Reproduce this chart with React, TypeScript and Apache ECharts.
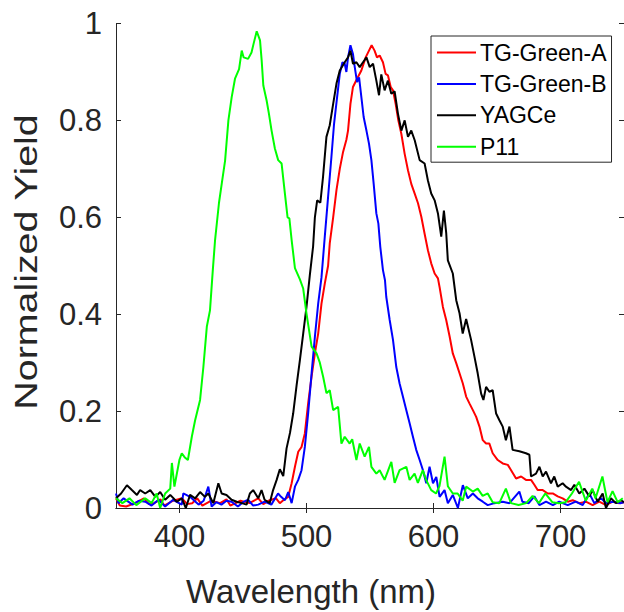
import React, { useEffect, useRef } from "react";
import * as echarts from "echarts";

const xTicks = [400, 500, 600, 700];
const yTicks = [0, 0.2, 0.4, 0.6, 0.8, 1];
const seriesNames = ["TG-Green-A", "TG-Green-B", "YAGCe", "P11"];
const seriesColors = ["#ff0000", "#0000ff", "#000000", "#00ff00"];

const tgGreenA: number[][] = [
  [350, 0.02], [353, 0.005], [358, 0.003], [365, 0.01], [372, 0.02], [376, 0.008], [380, 0.01], [385, 0.018],
  [388, 0.005], [395, 0.015], [402, 0.02], [406, 0.008], [410, 0.01], [414, 0.02], [418, 0.005], [425, 0.015],
  [432, 0.01], [437, 0.018], [440, 0.005], [448, 0.015], [455, 0.01], [462, 0.02], [466, 0.008], [470, 0.015],
  [476, 0.02], [479, 0.01], [481.7, 0.016], [485.6, 0.023], [488.3, 0.051], [490.9, 0.085], [493.5, 0.116],
  [496.1, 0.126], [498.7, 0.154], [501.3, 0.216], [504, 0.271], [506.6, 0.319], [509.2, 0.36], [511.8, 0.422],
  [514.4, 0.463], [517, 0.5], [518.3, 0.546], [521, 0.6], [523.6, 0.656], [526.2, 0.7], [528.8, 0.735],
  [531.4, 0.76], [532.7, 0.779], [534.6, 0.834], [536.6, 0.869], [539.8, 0.886], [543.2, 0.903], [546.6, 0.93],
  [549.2, 0.944], [551.3, 0.955], [553.6, 0.944], [555.5, 0.93], [557.6, 0.934], [560.2, 0.92], [562.3, 0.896],
  [564.1, 0.893], [566.3, 0.869], [568.1, 0.862], [570.2, 0.834], [572.3, 0.8], [574.7, 0.772], [577.3, 0.731],
  [579.9, 0.697], [582.5, 0.669], [585.2, 0.649], [587.8, 0.629], [590.4, 0.601], [593, 0.566], [595.6, 0.532],
  [598.2, 0.505], [600.9, 0.484], [603.5, 0.474], [604.8, 0.456], [607.4, 0.415], [610, 0.388], [612.7, 0.354],
  [615.2, 0.319], [617.9, 0.299], [620.5, 0.278], [623.1, 0.257], [625.7, 0.23], [628.3, 0.216], [631, 0.202],
  [633.6, 0.188], [636.2, 0.168], [638.8, 0.14], [641.4, 0.133], [644, 0.133], [646.6, 0.113], [650.6, 0.099],
  [654.5, 0.092], [658.5, 0.089], [661.1, 0.078], [665, 0.061], [669, 0.065], [672.8, 0.058], [676.8, 0.058],
  [679.4, 0.048], [682, 0.037], [686, 0.037], [690, 0.03], [693.9, 0.03], [697.8, 0.024], [701.7, 0.02],
  [705.7, 0.013], [709.6, 0.016], [714.8, 0.01], [720, 0.013], [725.3, 0.006], [730.5, 0.013], [735.8, 0.006],
  [741, 0.013], [746.3, 0.01], [750, 0.012],
];

const tgGreenB: number[][] = [
  [350, 0.03], [352, 0.01], [356, 0.02], [363, 0.007], [368, 0.015], [373, 0.013], [378, 0.005], [383.5, 0.017],
  [388.7, 0.003], [395, 0.017], [401.8, 0.007], [403, 0.03], [408.3, 0.023], [415, 0.007], [419, 0.015],
  [422.7, 0.044], [425.3, 0.003], [429, 0.012], [433, 0.007], [437, 0.015], [441, 0.013], [446, 0.003],
  [450, 0.012], [454, 0.017], [458, 0.005], [462, 0.007], [467, 0.013], [472.3, 0.007], [477.6, 0.03],
  [480, 0.023], [483, 0.016], [485.6, 0.033], [488.3, 0.01], [490.9, 0.044], [493.5, 0.058], [496.1, 0.078],
  [498.7, 0.126], [501.3, 0.195], [504, 0.278], [506.6, 0.353], [509.2, 0.422], [511.8, 0.476], [514.4, 0.56],
  [517, 0.642], [519.6, 0.724], [521.7, 0.793], [524.1, 0.848], [526.2, 0.896], [528.3, 0.92], [530.1, 0.917],
  [531.4, 0.9], [532.7, 0.93], [534.6, 0.955], [536.6, 0.937], [538, 0.91], [539.8, 0.879], [541.4, 0.889],
  [543.2, 0.848], [545, 0.807], [547.2, 0.779], [549.2, 0.752], [551.1, 0.718], [552.9, 0.669], [555, 0.608],
  [556.6, 0.587], [558.1, 0.539], [560.2, 0.491], [561.8, 0.47], [562.8, 0.436], [565.5, 0.388], [568.1, 0.347],
  [570.7, 0.291], [573.3, 0.257], [575.9, 0.23], [578.6, 0.202], [581.2, 0.175], [583.8, 0.147], [586.4, 0.12],
  [589.1, 0.099], [591.7, 0.078], [594.3, 0.051], [596.9, 0.085], [599.6, 0.051], [602.2, 0.064], [604.8, 0.023],
  [608.7, 0.037], [611.3, 0.01], [615.2, 0.027], [619.2, 0.0], [623.1, 0.047], [627, 0.02], [631, 0.03],
  [634.8, 0.02], [638.8, 0.013], [642.7, 0.006], [648, 0.01], [654.5, 0.013], [659.8, 0.01], [667.6, 0.034],
  [670, 0.013], [675, 0.01], [679.4, 0.024], [683.4, 0.006], [688.6, 0.013], [694, 0.006], [699, 0.013],
  [705.7, 0.006], [712, 0.013], [717.5, 0.006], [722.7, 0.03], [726.6, 0.01], [731.9, 0.02], [736, 0.01],
  [741, 0.013], [747.6, 0.01], [750, 0.012],
];

const yagce: number[][] = [
  [350, 0.02], [354, 0.03], [358.6, 0.047], [362.5, 0.037], [366.5, 0.027], [369, 0.037], [373, 0.03],
  [377, 0.037], [381, 0.023], [384.8, 0.033], [388.7, 0.017], [392.7, 0.027], [397.9, 0.013], [401.8, 0.02],
  [405, 0.0], [408.3, 0.027], [412.3, 0.02], [416.2, 0.033], [420, 0.023], [422.7, 0.03], [426.6, 0.01],
  [430.6, 0.051], [433.2, 0.03], [437, 0.027], [441, 0.017], [445, 0.013], [449, 0.01], [452.8, 0.007],
  [455.4, 0.03], [458, 0.037], [462, 0.02], [464.6, 0.037], [467, 0.017], [471, 0.01], [473.7, 0.037],
  [476.5, 0.058], [479, 0.08], [481.7, 0.066], [484.3, 0.123], [487, 0.155], [489.5, 0.195], [492.2, 0.253],
  [494.8, 0.305], [497.4, 0.36], [500, 0.415], [502.6, 0.48], [505.2, 0.54], [506.6, 0.6], [508.4, 0.635],
  [510.9, 0.63], [513, 0.683], [515.7, 0.766], [518.3, 0.79], [521, 0.834], [523.6, 0.876], [526.2, 0.903],
  [530.1, 0.92], [532.7, 0.93], [534.6, 0.944], [536.6, 0.917], [539.3, 0.92], [541.9, 0.91], [544.5, 0.92],
  [547.2, 0.93], [549.8, 0.91], [552.4, 0.917], [555, 0.882], [557.1, 0.852], [558.9, 0.895], [561.5, 0.862],
  [564.1, 0.882], [566.8, 0.855], [569.4, 0.86], [572, 0.814], [574.7, 0.779], [577.3, 0.8], [579.9, 0.766],
  [582.5, 0.779], [585.2, 0.759], [589.1, 0.718], [593, 0.711], [595.6, 0.676], [598.2, 0.649], [600.9, 0.635],
  [603.5, 0.608], [606.1, 0.56], [608.2, 0.614], [610, 0.568], [611.3, 0.511], [615.2, 0.484], [617.9, 0.429],
  [620.5, 0.402], [623, 0.36], [625.7, 0.39], [629.6, 0.347], [632.2, 0.313], [634.8, 0.278], [637.5, 0.236],
  [639.3, 0.223], [641.4, 0.25], [644, 0.24], [646.6, 0.243], [649.3, 0.195], [651.9, 0.181], [654.5, 0.168],
  [657, 0.14], [659.8, 0.168], [662.3, 0.12], [667.6, 0.117], [672.8, 0.113], [675.5, 0.11], [676.8, 0.065],
  [680.7, 0.071], [683.4, 0.085], [686, 0.065], [688.6, 0.075], [692.5, 0.051], [695.1, 0.065], [697.8, 0.044],
  [701.7, 0.051], [704.3, 0.044], [708.3, 0.037], [710.9, 0.048], [714.8, 0.03], [718.8, 0.04], [722.7, 0.024],
  [725.3, 0.037], [729.2, 0.013], [733.2, 0.03], [735.8, 0.0], [739.7, 0.02], [743.6, 0.01], [747.6, 0.016],
  [750, 0.012],
];

const p11: number[][] = [
  [350, 0.02], [355, 0.01], [360.6, 0.02], [366, 0.006], [373, 0.02], [378, 0.01], [382, 0.03], [384.8, 0.0],
  [388.7, 0.03], [392.7, 0.04], [394, 0.093], [396, 0.044], [400, 0.1], [401.8, 0.113], [404, 0.105],
  [406.6, 0.099], [409.7, 0.147], [412.3, 0.181], [416.2, 0.223], [418.8, 0.291], [421.5, 0.374], [424, 0.408],
  [426.2, 0.49], [428, 0.553], [431.1, 0.63], [433.3, 0.67], [435.9, 0.717], [438.5, 0.8], [441.1, 0.848],
  [443.7, 0.886], [446.9, 0.906], [449, 0.944], [450.5, 0.93], [454, 0.927], [456.7, 0.94], [458.5, 0.96],
  [460.8, 0.984], [463.4, 0.965], [464.7, 0.924], [466, 0.872], [468.6, 0.841], [470.4, 0.814], [472.5, 0.779],
  [475.1, 0.742], [477.7, 0.718], [480.4, 0.711], [483, 0.649], [485.1, 0.6], [486.5, 0.598], [488.3, 0.553],
  [490.9, 0.495], [494.8, 0.472], [497.4, 0.453], [500, 0.401], [504, 0.333], [507.9, 0.319], [510.5, 0.3],
  [513.1, 0.271], [515.7, 0.237], [518.3, 0.243], [521, 0.202], [524.9, 0.209], [527.5, 0.133], [530.1, 0.147],
  [534, 0.133], [536, 0.142], [539.3, 0.099], [541.9, 0.133], [545.8, 0.106], [549.2, 0.126], [551.1, 0.085],
  [555, 0.071], [557.6, 0.078], [561.5, 0.058], [566.8, 0.095], [569.4, 0.052], [573.3, 0.078], [578.6, 0.085],
  [581.2, 0.058], [585.1, 0.071], [587.7, 0.052], [591.6, 0.078], [594.2, 0.058], [598.2, 0.037], [602, 0.03],
  [604.7, 0.045], [608.7, 0.106], [611.3, 0.045], [615.2, 0.03], [619, 0.03], [623, 0.015], [625.7, 0.044],
  [631, 0.034], [634.8, 0.04], [638.7, 0.025], [642.7, 0.03], [646.6, 0.012], [651.8, 0.01], [657, 0.04],
  [661, 0.01], [667, 0.006], [673, 0.01], [678, 0.025], [683, 0.01], [688, 0.03], [693.5, 0.012], [698.7, 0.01],
  [704, 0.012], [709, 0.03], [714.6, 0.054], [719.9, 0.015], [725, 0.04], [727.6, 0.02], [733, 0.065],
  [737, 0.012], [741, 0.035], [745, 0.012], [749, 0.02],
];

const seriesData = [tgGreenA, tgGreenB, yagce, p11];

const FONT = '"Liberation Sans", Arial, sans-serif';
const AXIS_COLOR = "#262626";

export default function App() {
  const ref = useRef<HTMLDivElement>(null);

  useEffect(() => {
    if (!ref.current) return;
    const chart = echarts.init(ref.current, undefined, { renderer: "svg" });

    const axisLine = { show: true, lineStyle: { color: AXIS_COLOR, width: 1 } };

    chart.setOption({
      animation: false,
      backgroundColor: "#ffffff",
      grid: { left: 116, top: 23.5, right: -1, bottom: 104, containLabel: false },
      xAxis: [
        {
          type: "value",
          position: "bottom",
          min: 350,
          max: 750,
          axisLine,
          axisTick: { show: true, inside: true, length: 5, customValues: xTicks, lineStyle: { color: AXIS_COLOR } },
          axisLabel: { show: true, customValues: xTicks, fontSize: 31, fontFamily: FONT, color: AXIS_COLOR, margin: 13 },
          splitLine: { show: false },
        },
        {
          type: "value",
          position: "top",
          min: 350,
          max: 750,
          axisLine,
          axisTick: { show: true, inside: true, length: 5, customValues: xTicks, lineStyle: { color: AXIS_COLOR } },
          axisLabel: { show: false },
          splitLine: { show: false },
        },
      ],
      yAxis: [
        {
          type: "value",
          position: "left",
          min: yTicks[0],
          max: yTicks[yTicks.length - 1],
          interval: 0.2,
          axisLine,
          axisTick: { show: true, inside: true, length: 5, lineStyle: { color: AXIS_COLOR } },
          axisLabel: { show: true, fontSize: 31, fontFamily: FONT, color: AXIS_COLOR, margin: 14, padding: [5, 0, 0, 0] },
          splitLine: { show: false },
        },
        {
          type: "value",
          position: "right",
          min: yTicks[0],
          max: yTicks[yTicks.length - 1],
          interval: 0.2,
          axisLine,
          axisTick: { show: true, inside: true, length: 5, lineStyle: { color: AXIS_COLOR } },
          axisLabel: { show: false },
          splitLine: { show: false },
        },
      ],
      legend: {
        orient: "vertical",
        left: 431,
        top: 36,
        padding: [5, 5, 4, 6],
        itemGap: 8.4,
        itemWidth: 39,
        itemHeight: 2,
        icon: "rect",
        backgroundColor: "#ffffff",
        borderColor: AXIS_COLOR,
        borderWidth: 1,
        borderRadius: 0,
        data: seriesNames,
        textStyle: { fontSize: 23, lineHeight: 23, fontFamily: FONT, color: "#000000", padding: [0, 0, 0, -1] },
      },
      series: seriesNames.map((name, i) => ({
        name,
        type: "line",
        xAxisIndex: 0,
        yAxisIndex: 0,
        data: seriesData[i],
        symbol: "none",
        showSymbol: false,
        color: seriesColors[i],
        itemStyle: { color: seriesColors[i] },
        lineStyle: { color: seriesColors[i], width: 2 },
        emphasis: { disabled: true },
      })),
      graphic: [
        {
          type: "text",
          x: 311,
          y: 591,
          style: {
            text: "Wavelength (nm)",
            fontSize: 33,
            fontFamily: FONT,
            fill: AXIS_COLOR,
            align: "center",
            verticalAlign: "middle",
            textAlign: "center",
            textVerticalAlign: "middle",
          },
        },
        {
          type: "text",
          x: 27,
          y: 262,
          rotation: Math.PI / 2,
          scaleX: 1.27,
          style: {
            text: "Normalized Yield",
            fontSize: 31,
            fontFamily: FONT,
            fill: AXIS_COLOR,
            align: "center",
            verticalAlign: "middle",
            textAlign: "center",
            textVerticalAlign: "middle",
          },
        },
      ],
    });

    return () => chart.dispose();
  }, []);

  return <div ref={ref} style={{ position: "absolute", left: 0, top: 0, width: 624, height: 612 }} />;
}
